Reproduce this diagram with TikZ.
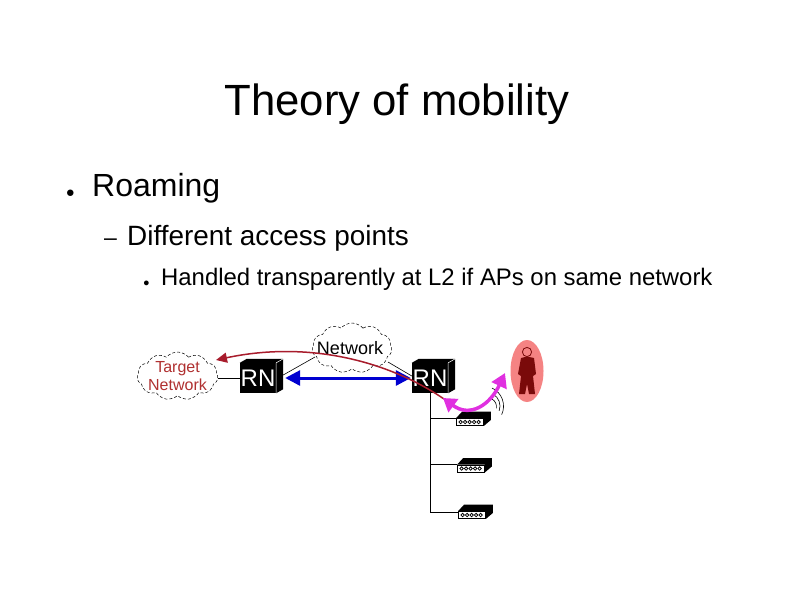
\documentclass[tikz,border=0pt]{standalone}
\usepackage{fontspec}
\setmainfont{Liberation Sans}
\usetikzlibrary{arrows.meta,shapes.symbols,shapes.geometric,calc}
\definecolor{tnred}{HTML}{B03030}
\definecolor{arcred}{HTML}{A81C2C}
\definecolor{pink1}{HTML}{F58383}
\definecolor{man}{HTML}{7A0A0A}
\definecolor{mag}{HTML}{E030E0}
\definecolor{bluearrow}{HTML}{0000D0}
\tikzset{
 txt/.style={inner sep=0pt,anchor=base west,text=black},
 netcloud/.style={draw=black,densely dashed,line width=0.5pt,shape=cloud,cloud puffs=11,cloud puff arc=100,aspect=1.7,inner sep=0pt,fill=white},
 rnbox/.style={fill=black,text=white,minimum width=36pt,minimum height=30pt,inner sep=0pt,font=\fontsize{24}{24}\selectfont},
 apbox/.style={draw=black,fill=white,line width=0.8pt,minimum width=27pt,minimum height=7pt,inner sep=0pt},
 wire/.style={draw=black,line width=0.6pt},
}
\newcommand{\rnside}[1]{%
 \fill[black] (#1.north west) -- ++(7,-4) -- ($(#1.north east)+(7,-4)$) -- ($(#1.south east)+(7,-4)$) -- (#1.south east) -- (#1.north east) -- cycle;
 \draw[white,line width=0.5pt] (#1.north east) -- ++(7,-4) (#1.north east) -- (#1.south east);
}
\newcommand{\apdetail}[1]{%
 \fill[black] (#1.north west) -- ++(6,-6.5) -- ($(#1.north east)+(7,-6.5)$) -- ($(#1.south east)+(7,-6)$) -- (#1.south east) -- (#1.north east) -- cycle;
 \foreach \k in {0,...,4}{\draw[black,line width=0.8pt] ($(#1.west)+(4.5+4.5*\k,0)$) circle (1.7);}
}
\begin{document}
\begin{tikzpicture}[x=1pt,y=1pt,yscale=-1]
\useasboundingbox (0,0) rectangle (794,595);
\fill[white] (0,0) rectangle (794,595);
\node[anchor=base,inner sep=0pt,font=\fontsize{43.7}{44}\selectfont] (title) at (397,115) {Theory of mobility};
\node[txt,font=\fontsize{15}{15}\selectfont] (b1) at (65.7,197.7) {●};
\node[txt,font=\fontsize{32}{32}\selectfont] (l1) at (92,196) {Roaming};
\node[txt,font=\fontsize{23}{23}\selectfont] (b2) at (104,245.5) {–};
\node[txt,font=\fontsize{27.9}{28}\selectfont] (l2) at (127,245) {Different access points};
\node[txt,font=\fontsize{11}{11}\selectfont] (b3) at (143,286) {●};
\node[txt,font=\fontsize{23.9}{24}\selectfont] (l3) at (161,285) {Handled transparently at L2 if APs on same network};

% boxes
\node[rnbox] (rn1) at (258,378) {RN};
\node[rnbox] (rn2) at (430,378) {RN};
\rnside{rn1}\rnside{rn2}
% clouds
\node[netcloud,minimum width=81pt,minimum height=48pt,label={[text=tnred,font=\fontsize{16}{18.5}\selectfont,align=center,inner sep=0pt]center:Target\\Network}] (target) at (177.5,376) {};
\node[netcloud,minimum width=80pt,minimum height=50pt,label={[font=\fontsize{18}{18}\selectfont,inner sep=0pt,xshift=-2pt]center:Network}] (net) at (352,348) {};
\draw[wire] (target.east |- rn1.west) -- (rn1.west);
\draw[wire] ($(net.center)+(-37,9)$) -- ($(rn1.east)+(7,-3)$);
\draw[wire] ($(net.center)+(36,14)$) -- ($(rn2.west)+(0,-2)$);

% access points
\node[apbox] (ap1) at (470,422) {};
\node[apbox] (ap2) at (471,468.5) {};
\node[apbox] (ap3) at (472,515) {};
\apdetail{ap1}\apdetail{ap2}\apdetail{ap3}
\coordinate (bus) at (430,512);
\draw[wire] (rn2.south) -- (bus) -- (bus -| ap3.west);
\draw[wire] (430,418) -- (430,418 -| ap1.west);
\draw[wire] (430,464) -- (430,464 -| ap2.west);

% radio waves
\coordinate (ant) at (490,412);
\draw[line width=0.6pt] (ant) ++(2,-13) arc (-60:10:9);
\draw[line width=0.6pt] (ant) ++(3,-18) arc (-60:20:14);
\draw[line width=0.6pt] (ant) ++(2,-24) arc (-65:25:20);

% person
\node[ellipse,fill=pink1,minimum width=33pt,minimum height=62pt,inner sep=0pt] (person) at (527,371) {};
\draw[man,line width=0.8pt] (527,352) circle (4.6);
\fill[man] (527,356.5) -- (521,358) -- (518,374) -- (521,376) -- (519,394) -- (525,394) -- (527,384) -- (529,394) -- (535,394) -- (533,376) -- (536,374) -- (534,358) -- cycle;

% arrows
\draw[{Triangle[length=15pt,width=15pt]}-{Triangle[length=15pt,width=15pt]},bluearrow,line width=3pt] ($(rn1.east)+(9,0)$) -- ($(rn2.west)+(-1,0)$);
\draw[-{Triangle[length=11pt,width=10pt]},arcred,line width=1.5pt] (444,399) .. controls (390,362) and (310,340) .. (216,360);
\draw[{Triangle[length=13pt,width=16pt]}-{Triangle[length=14pt,width=16pt]},mag,line width=3.5pt] (443,398) .. controls (470,418) and (490,405) .. (505,373);
\end{tikzpicture}
\end{document}
